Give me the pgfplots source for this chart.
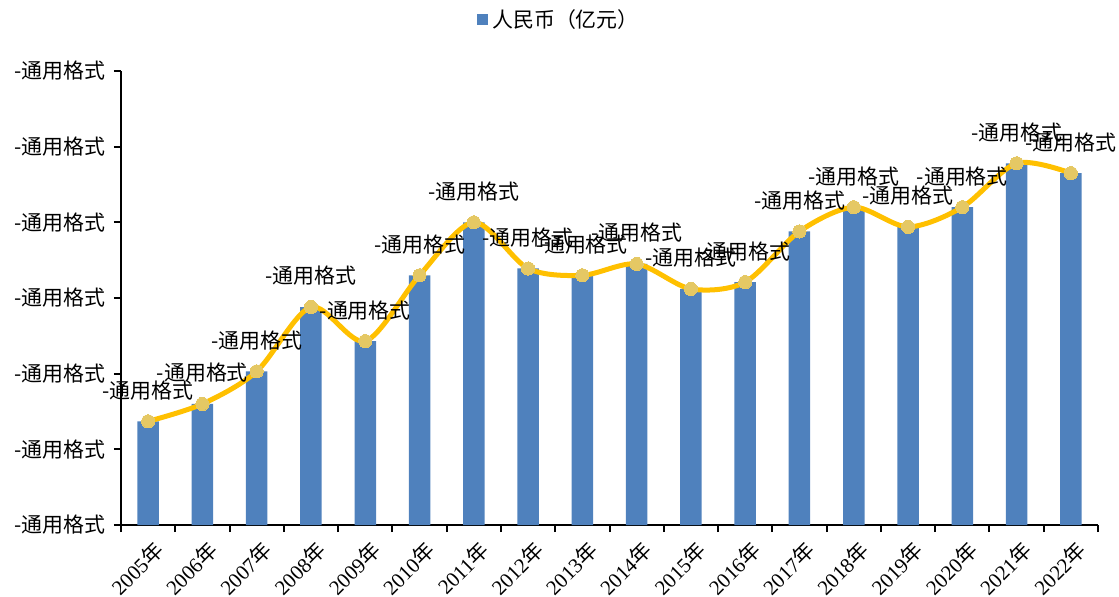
\documentclass[border=0pt]{standalone}
\usepackage{pgfplots}
\pgfplotsset{compat=1.18}
\usepackage{fontspec}
\setmainfont{Liberation Serif}
\newfontfamily\cjk{Noto Sans CJK SC}
\definecolor{barblue}{RGB}{79,129,189}
\definecolor{lineyel}{RGB}{255,192,0}
\definecolor{markyel}{RGB}{229,200,100}
\pgfplotstableread{
x y
0 1.37
1 1.60
2 2.03
3 2.88
4 2.43
5 3.30
6 4.00
7 3.39
8 3.30
9 3.45
10 3.12
11 3.21
12 3.88
13 4.20
14 3.94
15 4.20
16 4.78
17 4.65
}\datatable
\begin{document}
\begin{tikzpicture}
\path[use as bounding box] (-60.5bp,-36bp) rectangle (499bp,262.5bp);
\begin{axis}[
  at={(0,0)}, anchor=south west,
  scale only axis, width=488.5bp, height=227bp,
  xmin=-0.5, xmax=17.5, ymin=0, ymax=6,
  axis x line=bottom, axis y line=left,
  axis line style={-, line width=1bp, black},
  xtick={0,...,17},
  xticklabels={2005{\cjk 年},2006{\cjk 年},2007{\cjk 年},2008{\cjk 年},2009{\cjk 年},2010{\cjk 年},2011{\cjk 年},2012{\cjk 年},2013{\cjk 年},2014{\cjk 年},2015{\cjk 年},2016{\cjk 年},2017{\cjk 年},2018{\cjk 年},2019{\cjk 年},2020{\cjk 年},2021{\cjk 年},2022{\cjk 年}},
  xticklabel style={font=\fontsize{10.5}{12}\selectfont, rotate=45, anchor=north east, inner sep=1bp, yshift=-3bp},
  major x tick style={draw=none},
  minor xtick={-0.5,0.5,...,17.5},
  minor x tick style={line width=1bp, black},
  minor tick length=3.5bp,
  ytick={0,...,6},
  yticklabel={\cjk -通用格式},
  yticklabel style={font=\fontsize{10.5}{12}\selectfont, inner sep=1bp, xshift=-3bp},
  major y tick style={line width=1bp, black},
  major tick length=3.5bp,
  tick align=outside,
  legend style={at={(219.5bp,252.5bp)}, anchor=center, draw=none, font=\cjk\fontsize{10.5}{12}\selectfont, legend columns=1, fill=none},
  legend image code/.code={\fill[barblue] (0bp,-2.75bp) rectangle (5.5bp,2.75bp);},
  clip=false,
]
\addplot[ybar, bar width=10.75bp, fill=barblue, draw=none] table[x=x,y=y] {\datatable};
\addlegendentry{人民币（亿元）}
\addplot[forget plot, smooth, tension=0.5, line width=2.5bp, color=lineyel,
  mark=*, mark size=3.3bp, mark options={fill=markyel, draw=markyel, line width=0pt},
  nodes near coords={\cjk -通用格式},
  every node near coord/.style={anchor=center, yshift=15.5bp, font=\fontsize{10.5}{12}\selectfont, black, inner sep=0pt}
] table[x=x,y=y] {\datatable};
\end{axis}
\end{tikzpicture}
\end{document}
